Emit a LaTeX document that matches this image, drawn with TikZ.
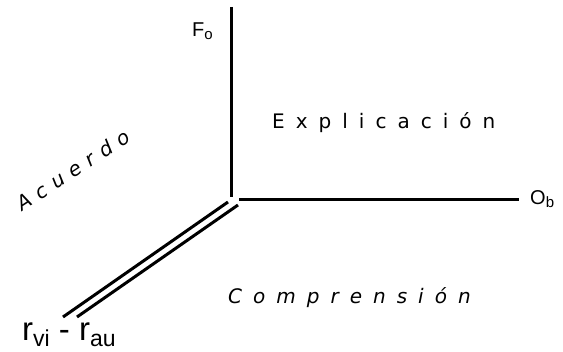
\documentclass[tikz,border=0pt]{standalone}
\usepackage{fontspec}
\setmainfont{DejaVu Sans}
\newfontfamily\lab{Liberation Sans}
\newfontfamily\spaced[LetterSpace=55]{DejaVu Sans}
\newfontfamily\spacedb[LetterSpace=40]{DejaVu Sans}
\begin{document}
\begin{tikzpicture}[x=1pt,y=-1pt,
  axis/.style={line width=3pt},
  word/.style={anchor=base west, inner sep=0pt, font=\spaced\fontsize{20}{20}\selectfont},
  lbl/.style={anchor=base west, inner sep=0pt, font=\lab\fontsize{20}{20}\selectfont}]
\useasboundingbox (0,0) rectangle (563,352);
\coordinate (top) at (231,7);
\coordinate (vbot) at (231,197);
\coordinate (hl) at (239,200);
\coordinate (hr) at (519,200);
\coordinate (a1) at (228,202);
\coordinate (b1) at (63,317);
\coordinate (a2) at (238,205);
\coordinate (b2) at (77,317);
\draw[axis] (top) -- (vbot);
\draw[axis] (hl) -- (hr);
\draw[axis] (a1) -- (b1);
\draw[axis] (a2) -- (b2);
\node[lbl] (fo) at (192,37) {F\raisebox{-3pt}{\fontsize{15}{15}\selectfont o}};
\node[lbl] (ob) at (530,205) {O\raisebox{-3pt}{\fontsize{15}{15}\selectfont b}};
\node[word] (expl) at (272,129) {Explicación};
\node[word, font=\spaced\itshape\fontsize{20}{20}\selectfont] (comp) at (228,304) {Comprensión};
\node[word, font=\spacedb\itshape\fontsize{20}{20}\selectfont, rotate=33] (acu) at (22,212) {Acuerdo};
\node[anchor=base west, inner sep=0pt, font=\lab\fontsize{33}{33}\selectfont] (r) at (22,341)
  {r\raisebox{-6pt}{\fontsize{23}{23}\selectfont vi} - r\raisebox{-6pt}{\fontsize{23}{23}\selectfont au}};
\end{tikzpicture}
\end{document}
